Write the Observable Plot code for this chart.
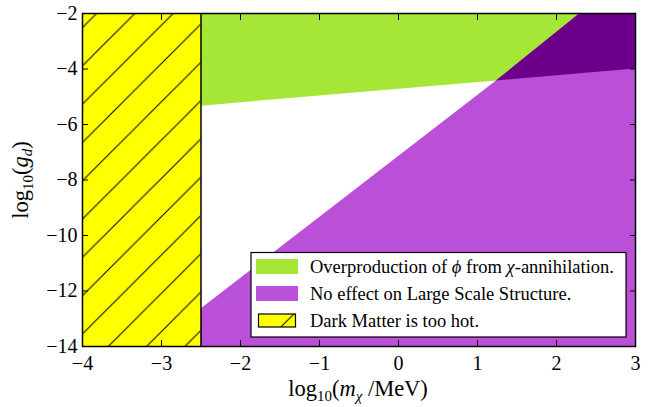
<!DOCTYPE html>
<html><head><meta charset="utf-8">
<script src="https://cdn.jsdelivr.net/npm/d3@7"></script>
<script src="https://cdn.jsdelivr.net/npm/@observablehq/plot@0.6"></script>
<style>
body{margin:0;background:#fff} svg{display:block}
svg, svg text { font-family: "Liberation Serif", "Times New Roman", serif !important; }
</style>
</head><body><div id="chart"></div>
<script>
// ---- data ----
const xDomain = [-4, 3];
const yDomain = [-14, -2];
const xTicks = [-4, -3, -2, -1, 0, 1, 2, 3];
const yTicks = [-14, -12, -10, -8, -6, -4, -2];
const hotMassLimit = -2.5;                    // DM too hot for log10(m) < -2.5
const xKnots = [-2.5, 1.24, 2.3, 3];          // log10(m_chi/MeV)
const greenLower = [-5.34, -4.43, -4.17, -4.0]; // lower edge of overproduction region
const lssUpper = [-12.65, -4.43, -2, -2];       // upper edge of "no LSS effect" region
const legendLabels = [
  "Overproduction of ϕ from χ-annihilation.",
  "No effect on Large Scale Structure.",
  "Dark Matter is too hot."
];
const colors = {green: "#a5e637", purple: "#bb50d8", dark: "#6c008a", yellow: "#ffff00"};

const rows = xKnots.map((x, i) => ({x, gl: greenLower[i], lss: lssUpper[i]}));
const overlap = rows.filter(d => d.lss >= d.gl);
const hotBox = [{x1: xDomain[0], x2: hotMassLimit, y1: yDomain[0], y2: yDomain[1]}];

const font = "'Liberation Serif', 'Times New Roman', serif";
const plot = Plot.plot({
  width: 654, height: 407,
  marginLeft: 82, marginRight: 19, marginTop: 13, marginBottom: 61,
  x: {domain: xDomain},
  y: {domain: yDomain},
  style: {background: "white", color: "black"},
  marks: [
    Plot.areaY(rows, {x: "x", y1: "gl", y2: yDomain[1], fill: colors.green}),
    Plot.areaY(rows, {x: "x", y1: yDomain[0], y2: "lss", fill: colors.purple}),
    Plot.areaY(overlap, {x: "x", y1: "gl", y2: "lss", fill: colors.dark}),
    Plot.rect(hotBox, {x1: "x1", x2: "x2", y1: "y1", y2: "y2", fill: colors.yellow}),
    Plot.rect(hotBox, {x1: "x1", x2: "x2", y1: "y1", y2: "y2", fill: "url(#hatch)"}),
    Plot.ruleX([hotMassLimit], {stroke: "black", strokeWidth: 1.5}),
    Plot.axisX(xTicks, {anchor: "bottom", tickSize: -6, tickPadding: 15, fontSize: 20, label: null}),
    Plot.axisX(xTicks, {anchor: "top", tickSize: -6, tickFormat: () => "", label: null}),
    Plot.axisY(yTicks, {anchor: "left", tickSize: -6, tickPadding: 11, fontSize: 20, label: null}),
    Plot.axisY(yTicks, {anchor: "right", tickSize: -6, tickFormat: () => "", label: null}),
    Plot.frame({stroke: "black", strokeWidth: 1.5})
  ]
});
document.getElementById("chart").appendChild(plot);

const svg = d3.select(plot);
// enlarge tick labels (the only texts Plot drew)
svg.selectAll("text").each(function() {
  this.setAttribute("font-size", "20");
  this.style.setProperty("font-size", "20px", "important");
});
svg.selectAll("g").filter(function() { return this.querySelector(":scope > text"); })
  .each(function() { this.setAttribute("font-size", "20"); this.style.setProperty("font-size", "20px", "important"); });

// ---- hatch pattern ----
const defs = svg.insert("defs", ":first-child");
const s = 38.3;
const pat = defs.append("pattern").attr("id", "hatch").attr("patternUnits", "userSpaceOnUse")
  .attr("width", s).attr("height", s).attr("x", 33.4).attr("y", 0);
pat.append("path")
  .attr("d", `M0,${s} L${s},0 M${-s/2},${s/2} L${s/2},${-s/2} M${s/2},${1.5*s} L${1.5*s},${s/2}`)
  .attr("stroke", "black").attr("stroke-width", 1).attr("fill", "none");

// ---- axis titles ----
const xl = svg.append("text").attr("x", 358).attr("y", 396).attr("text-anchor", "middle")
  .attr("font-size", 22.5).attr("fill", "black");
xl.append("tspan").text("log");
xl.append("tspan").attr("font-size", 15).attr("dy", 5).text("10");
xl.append("tspan").attr("dy", -5).text("(");
xl.append("tspan").attr("font-style", "italic").text("m");
xl.append("tspan").attr("font-style", "italic").attr("font-size", 15).attr("dy", 5).text("χ");
xl.append("tspan").attr("dy", -5).text(" /MeV)");

const yl = svg.append("text").attr("transform", "translate(28,180) rotate(-90)").attr("text-anchor", "middle")
  .attr("font-size", 22.5).attr("fill", "black");
yl.append("tspan").text("log");
yl.append("tspan").attr("font-size", 15).attr("dy", 5).text("10");
yl.append("tspan").attr("dy", -5).text("(");
yl.append("tspan").attr("font-style", "italic").text("g");
yl.append("tspan").attr("font-style", "italic").attr("font-size", 15).attr("dy", 4).text("d");
yl.append("tspan").attr("dy", -4).text(")");

// ---- legend ----
const lg = svg.append("g");
lg.append("rect").attr("x", 251).attr("y", 252.5).attr("width", 375).attr("height", 84.5)
  .attr("fill", "white").attr("stroke", "black").attr("stroke-width", 1.2);
const sw = [colors.green, colors.purple, null];
legendLabels.forEach((t, i) => {
  const cy = 266.5 + i * 27;
  if (sw[i]) {
    lg.append("rect").attr("x", 256).attr("y", cy - 7.5).attr("width", 42).attr("height", 15).attr("fill", sw[i]);
  } else {
    lg.append("rect").attr("x", 258.5).attr("y", cy - 6.5).attr("width", 37).attr("height", 13).attr("fill", colors.yellow);
    lg.append("rect").attr("x", 258.5).attr("y", cy - 6.5).attr("width", 37).attr("height", 13)
      .attr("fill", "url(#hatch)").attr("stroke", "black").attr("stroke-width", 1.2);
  }
  const tx = lg.append("text").attr("x", 310).attr("y", cy + 6).attr("text-anchor", "start")
    .attr("font-size", 18.5).attr("fill", "black");
  if (i === 0) {
    tx.append("tspan").text("Overproduction of ");
    tx.append("tspan").attr("font-style", "italic").text("ϕ");
    tx.append("tspan").text(" from ");
    tx.append("tspan").attr("font-style", "italic").text("χ");
    tx.append("tspan").text("-annihilation.");
  } else {
    tx.text(t);
  }
});
svg.selectAll("text").attr("font-family", font);
</script></body></html>
